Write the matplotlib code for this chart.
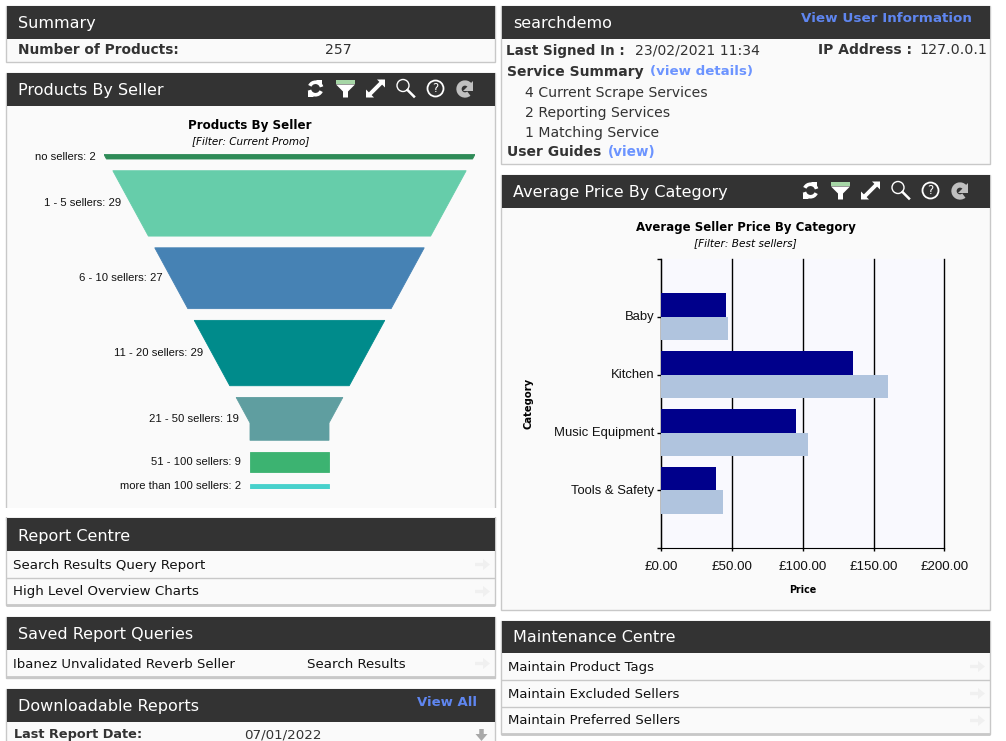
import matplotlib
matplotlib.use("Agg")
import matplotlib.pyplot as plt
from matplotlib.patches import Rectangle, Polygon, Circle, Arc, FancyArrow
from matplotlib.transforms import ScaledTranslation

W, H = 1006, 741

# funnel data
seller_bands = ["no sellers", "1 - 5 sellers", "6 - 10 sellers", "11 - 20 sellers",
                "21 - 50 sellers", "51 - 100 sellers", "more than 100 sellers"]
seller_counts = [2, 29, 27, 29, 19, 9, 2]
funnel_colors = ["#2e8b57", "#66cdaa", "#4682b4", "#008b8b", "#5f9ea0", "#3cb371", "#48d1cc"]

# bar data
categories = ["Baby", "Kitchen", "Music Equipment", "Tools & Safety"]
price_dark = [45.5, 135.5, 95.5, 39]
price_light = [47, 160, 104, 43.5]
price_ticks = [0, 50, 100, 150, 200]

HEAD = "#333333"
BODY = "#fafafa"
EDGE = "#c8c8c8"
LINK = "#6c94ff"
LINK2 = "#5f86f0"
TXT = "#333333"
UI = "DejaVu Sans"
CH = "Liberation Sans"

fig = plt.figure(figsize=(W / 100, H / 100), dpi=100, facecolor="white")
bg = fig.add_axes([0, 0, 1, 1])
bg.set_xlim(0, W)
bg.set_ylim(H, 0)
bg.axis("off")


def axes_px(x0, y0, x1, y1):
    return fig.add_axes([x0 / W, 1 - y1 / H, (x1 - x0) / W, (y1 - y0) / H])


def label(x, y, s, size=10.1, bold=False, color=TXT, ha="left"):
    bg.text(x, y, s, color=color, fontsize=size, fontweight="bold" if bold else "normal",
            ha=ha, va="center", family=UI)


def panel(x0, x1, top, head_end, bottom, title, title_y):
    bg.add_patch(Rectangle((x0, top), x1 - x0, bottom - top, fc=BODY, ec=EDGE, lw=1))
    bg.add_patch(Rectangle((x0 + .5, top + .5), x1 - x0 - 1, head_end - top - .5, fc=HEAD, ec="none"))
    label(x0 + 11.5, title_y, title, size=11.55, color="white")


def rows(x0, x1, ys, labels, xtext, size=9.6):
    # menu rows, divider lines below each one and the pale arrow at the right
    for i, (y, lab) in enumerate(zip(ys, labels)):
        label(xtext, y + .5, lab, size=size, color="#111111")
        bg.add_patch(FancyArrow(x1 - 20.5, y, 15, 0, width=3.4, head_width=11, head_length=7,
                                length_includes_head=True, fc="#f0f0f0", ec="none"))
        lw = 2 if i == len(ys) - 1 else 1
        bg.plot([x0, x1], [y + 13, y + 13], color=EDGE, lw=lw, solid_capstyle="butt")


def icons(dx, y):
    # header toolbar
    x = 315.5 + dx
    for a, b in [(25, 165), (205, 345)]:
        bg.add_patch(Arc((x, y), 12.5, 12.5, theta1=a, theta2=b, color="white", lw=2.6))
    bg.add_patch(Polygon([[x + 1, y - 8.5], [x + 7, y - 8.5], [x + 7, y - 2]], fc="white", ec="none"))
    bg.add_patch(Polygon([[x - 1, y + 8.5], [x - 7, y + 8.5], [x - 7, y + 2]], fc="white", ec="none"))
    x = 345.5 + dx
    bg.add_patch(Rectangle((x - 9.5, y - 8.5), 19, 3.5, fc="#a6d6a6", ec="none"))
    bg.add_patch(Polygon([[x - 9.5, y - 4], [x + 9.5, y - 4], [x + 2.5, y + 3], [x + 2.5, y + 9],
                          [x - 2.5, y + 9], [x - 2.5, y + 3]], fc="white", ec="none"))
    x = 375.5 + dx
    bg.plot([x - 6, x + 6], [y + 6, y - 6], color="white", lw=2.8)
    bg.add_patch(Polygon([[x + 9.5, y - 9], [x + 1.5, y - 9], [x + 9.5, y - 1]], fc="white", ec="none"))
    bg.add_patch(Polygon([[x - 9.5, y + 9], [x - 1.5, y + 9], [x - 9.5, y + 1]], fc="white", ec="none"))
    x = 405 + dx
    bg.add_patch(Circle((x - 2, y - 3), 6, fc="none", ec="white", lw=1))
    bg.plot([x + 2.5, x + 9], [y + 1.5, y + 8], color="white", lw=1.8)
    x = 435.5 + dx
    bg.add_patch(Circle((x, y), 8, fc="none", ec="white", lw=1.3))
    bg.text(x, y + .5, "?", color="white", fontsize=8.5, ha="center", va="center", family=UI)
    x = 465.5 + dx
    bg.add_patch(Arc((x - .5, y + .5), 12, 12, theta1=50, theta2=320, color="#c0c0c0", lw=3.8))
    bg.add_patch(Polygon([[x + 8, y - 8], [x + 8, y + 2], [x - 2, y + 2]], fc="#c0c0c0", ec="none"))


LX0, LX1, RX0, RX1 = 6.5, 495.5, 501.5, 990.5

# left column
panel(LX0, LX1, 5.5, 39, 61.5, "Summary", 23.2)
label(18, 50.5, "Number of Products:", size=9.9, bold=True)
label(325, 50.5, "257")

panel(LX0, LX1, 72.5, 106, 520, "Products By Seller", 90.5)
bg.add_patch(Rectangle((0, 507.5), 498, 9, fc="white", ec="none", zorder=3))
icons(0, 88.5)
bg.text(250, 125.5, "Products By Seller", color="black", fontsize=8.6, fontweight="bold",
        ha="center", va="center", family=UI)
bg.text(251, 141, "[Filter: Current Promo]", color="black", fontsize=7.5, style="italic",
        ha="center", va="center", family=UI)

panel(LX0, LX1, 517.5, 551, 605, "Report Centre", 536)
rows(LX0, LX1, [564.5, 591.5], ["Search Results Query Report", "High Level Overview Charts"], 13)

panel(LX0, LX1, 616.5, 650, 677.5, "Saved Report Queries", 635)
rows(LX0, LX1, [663.5], ["Ibanez Unvalidated Reverb Seller"], 13, size=9.5)
label(307, 664, "Search Results", size=9.6, color="#111111")

panel(LX0, LX1, 688.5, 722, 760, "Downloadable Reports", 707)
label(477, 702, "View All", size=9.5, bold=True, color=LINK2, ha="right")
label(14, 734.5, "Last Report Date:", size=9.3, bold=True)
label(244, 734.5, "07/01/2022", size=9.7)
bg.add_patch(FancyArrow(481.5, 729, 0, 12, width=4.5, head_width=12, head_length=7,
                        length_includes_head=True, fc="#a8a8a8", ec="none"))

# right column
panel(RX0, RX1, 5.5, 39, 163.5, "searchdemo", 23.2)
label(972, 18.5, "View User Information", size=9.7, bold=True, color=LINK2, ha="right")
label(506, 50.5, "Last Signed In :", size=9.75, bold=True)
label(635, 50.5, "23/02/2021 11:34")
label(818, 50.5, "IP Address :", size=10, bold=True)
label(919, 50.5, "127.0.0.1", size=10.3)
label(507.5, 72, "Service Summary", size=10, bold=True)
label(650.5, 72, "(view details)", size=9.6, bold=True, color=LINK)
for yy, s in zip([92.5, 112.5, 132.5], ["4 Current Scrape Services", "2 Reporting Services", "1 Matching Service"]):
    label(525, yy, s)
label(507.5, 152.5, "User Guides", size=10, bold=True)
label(607.5, 152.5, "(view)", size=9.8, bold=True, color=LINK)

panel(RX0, RX1, 174.5, 208, 609.5, "Average Price By Category", 192.5)
icons(495, 190.5)
bg.text(746, 227.5, "Average Seller Price By Category", color="black", fontsize=8.5, fontweight="bold",
        ha="center", va="center", family=UI)
bg.text(745.5, 243, "[Filter: Best sellers]", color="black", fontsize=7.55, style="italic",
        ha="center", va="center", family=UI)

panel(RX0, RX1, 620.5, 653, 733.5, "Maintenance Centre", 638)
rows(RX0, RX1, [666.5, 693.5, 720.5], ["Maintain Product Tags", "Maintain Excluded Sellers", "Maintain Preferred Sellers"], 508, size=9.5)

# funnel, y in products plus a fixed gap between bands
FTOP, FBOT = 154.5, 488.5
gap = 5.2
slope = 1.226
neck = 39.5
mouth = 185.5
total = sum(seller_counts) + gap * (len(seller_counts) - 1)

fx = axes_px(289.5 - mouth, FTOP, 289.5 + mouth, FBOT)
fx.set_xlim(-mouth, mouth)
fx.set_ylim(total, 0)
fx.axis("off")


def half_width(y):
    return max(mouth - slope * y, neck)


y = 0
for band, n, c in zip(seller_bands, seller_counts, funnel_colors):
    a, b = y, y + n
    knee = (mouth - neck) / slope
    ys = [a, knee, b] if a < knee < b else [a, b]
    right = [(half_width(v), v) for v in ys]
    left = [(-half_width(v), v) for v in reversed(ys)]
    fx.add_patch(Polygon(right + left, fc=c, ec=c, lw=0.6))
    mid = (a + b) / 2
    fx.text(-half_width(mid) - 9, mid, f"{band}: {n}", color="#111111", fontsize=8.15,
            ha="right", va="center", family=CH, clip_on=False)
    y = b + gap

# bar chart
ax = axes_px(661.3, 259, 944.3, 548.3)
ax.set_facecolor("#f9f9fe")
pos = range(1, len(categories) + 1)
ax.barh(pos, price_dark, height=-0.41, align="edge", color="#00008b", zorder=3)
ax.barh(pos, price_light, height=0.4, align="edge", color="#b0c4de", zorder=3)
ax.set_xlim(0, 200)
ax.set_ylim(5, 0)
ax.set_yticks([0, 1, 2, 3, 4, 5], [""] + categories + [""], family=CH, fontsize=9.4, color="#111111")
ax.set_xticks(price_ticks, [f"£{v:.2f}" for v in price_ticks], family=CH, fontsize=9.6, color="#111111")
ax.grid(axis="x", color="black", lw=1, zorder=1, clip_on=False)
ax.set_axisbelow(True)
ax.tick_params(axis="y", length=3.2, width=1, pad=2)
ax.tick_params(axis="x", length=2, width=1, pad=7)
for lab in ax.get_yticklabels():
    lab.set_transform(lab.get_transform() + ScaledTranslation(0, 1 / 100, fig.dpi_scale_trans))
for side in ["top", "right"]:
    ax.spines[side].set_visible(False)
ax.set_xlabel("Price", fontsize=6.9, fontweight="bold", family=UI, labelpad=9)
ax.set_ylabel("Category", fontsize=7.2, fontweight="bold", family=UI)
ax.yaxis.set_label_coords((534 - 661.3) / 283, 0.5)

fig.savefig("out.png", dpi=100, facecolor="white")
